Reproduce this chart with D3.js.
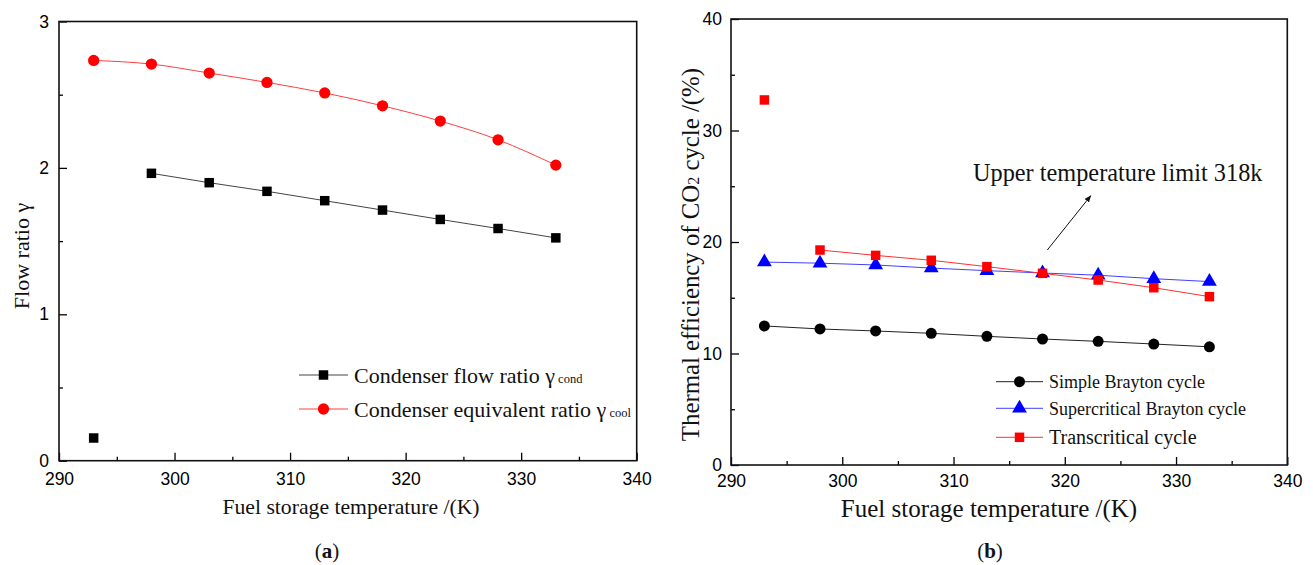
<!DOCTYPE html>
<html>
<head>
<meta charset="utf-8">
<script src="https://cdn.jsdelivr.net/npm/d3@7"></script>
<style>
  body { margin: 0; background: #fff; }
  svg { display: block; }
  .tick text { font-family: "Liberation Sans", Arial, sans-serif; font-size: 17.5px; fill: #000; }
  .serif { font-family: "Liberation Serif", "Times New Roman", serif; fill: #111; }
</style>
</head>
<body>
<svg id="chart" width="1313" height="565"></svg>
<script>
// fuel storage temperature (K), shared by both panels
var tempK = [293, 298, 303, 308, 313, 318, 323, 328, 333];

// panel (a): flow ratios
var condFlowRatio  = [0.155, 1.963, 1.899, 1.840, 1.776, 1.712, 1.648, 1.586, 1.522];
var coolEquivRatio = [2.734, 2.709, 2.648, 2.584, 2.512, 2.424, 2.320, 2.192, 2.019];

// panel (b): thermal efficiency (%)
var simpleBrayton    = [12.47, 12.20, 12.02, 11.81, 11.54, 11.30, 11.09, 10.85, 10.60];
var supercritBrayton = [18.20, 18.10, 17.94, 17.66, 17.43, 17.22, 17.02, 16.71, 16.45];
var transcritical    = [32.74, 19.28, 18.80, 18.36, 17.79, 17.19, 16.59, 15.90, 15.10];

var xTicks = [290, 300, 310, 320, 330, 340];
var xMinor = [295, 305, 315, 325, 335];
var yTicksA = [0, 1, 2, 3], yMinorA = [0.5, 1.5, 2.5];
var yTicksB = [0, 10, 20, 30, 40], yMinorB = [5, 15, 25, 35];

var svg = d3.select('#chart');

function symbolPath(type, size) {
	return d3.symbol().type(type).size(size)();
}

function drawPanel(p) {
	var g = svg.append('g').attr('transform', 'translate(' + p.left + ',' + p.top + ')');
	var x = d3.scaleLinear().domain([290, 340]).range([0, p.width]);
	var y = d3.scaleLinear().domain(p.yDomain).range([p.height, 0]);

	// axes, ticks pointing inward
	g.append('g').attr('transform', 'translate(0,' + p.height + ')')
		.call(d3.axisBottom(x).tickValues(xTicks).tickSize(-8).tickPadding(p.xPad).tickFormat(d3.format('d')));
	g.append('g').attr('transform', 'translate(0,' + p.height + ')')
		.call(d3.axisBottom(x).tickValues(xMinor).tickSize(-4).tickFormat(''));
	g.append('g')
		.call(d3.axisLeft(y).tickValues(p.yTicks).tickSize(-8).tickPadding(p.yPad).tickFormat(d3.format('d')));
	g.append('g')
		.call(d3.axisLeft(y).tickValues(p.yMinor).tickSize(-4).tickFormat(''));
	g.selectAll('.domain').remove();
	g.selectAll('.tick line').attr('stroke', '#000').attr('stroke-width', 1.3);

	g.append('rect').attr('width', p.width).attr('height', p.height)
		.attr('fill', 'none').attr('stroke', '#111').attr('stroke-width', 1.6);

	p.series.forEach(function (s) {
		var pts = tempK.map(function (t, i) { return {x: t, y: s.values[i], i: i}; });
		var line = d3.line().x(function (d) { return x(d.x); }).y(function (d) { return y(d.y); })
			.curve(s.curve || d3.curveLinear);
		g.append('path').datum(pts.filter(function (d) { return d.i >= s.lineFrom; }))
			.attr('d', line).attr('fill', 'none').attr('stroke', s.line).attr('stroke-width', 1);
		g.selectAll(null).data(pts).enter().append('path')
			.attr('transform', function (d) { return 'translate(' + x(d.x) + ',' + y(d.y) + ')'; })
			.attr('d', symbolPath(s.symbol, s.size))
			.attr('fill', s.fill);
	});

	// legend
	var lg = g.append('g').attr('transform', 'translate(' + p.legend.x + ',' + p.legend.y + ')');
	p.series.forEach(function (s, i) {
		var row = lg.append('g').attr('transform', 'translate(0,' + p.legend.rows[i] + ')');
		row.append('line').attr('x1', 0).attr('x2', p.legend.len).attr('stroke', s.line).attr('stroke-width', 1);
		row.append('path').attr('transform', 'translate(' + p.legend.len / 2 + ',0)')
			.attr('d', symbolPath(s.symbol, s.size)).attr('fill', s.fill);
		var t = row.append('text').attr('class', 'serif').attr('x', p.legend.len + 6).attr('dy', '0.35em')
			.style('font-size', (s.fs || p.legend.fs) + 'px');
		t.append('tspan').text(s.label);
		if (s.sub) t.append('tspan').style('font-size', '12.5px').text(' ' + s.sub);
	});

	return {g: g, x: x, y: y};
}

var a = drawPanel({
	left: 59, top: 21.5, width: 577.7, height: 439.2,
	yDomain: [0, 3], yTicks: yTicksA, yMinor: yMinorA, xPad: 12, yPad: 10,
	series: [
		{values: condFlowRatio, lineFrom: 1, line: '#444', fill: '#000', symbol: d3.symbolSquare, size: 90,
			label: 'Condenser flow ratio γ', sub: 'cond'},
		{values: coolEquivRatio, lineFrom: 0, line: '#ff4040', fill: '#ff0000', symbol: d3.symbolCircle, size: 100,
			label: 'Condenser equivalent ratio γ', sub: 'cool', curve: d3.curveMonotoneX}
	],
	legend: {x: 240, y: 353.5, rows: [0, 34], len: 49, fs: 22}
});

var b = drawPanel({
	left: 731, top: 19, width: 556.3, height: 446,
	yDomain: [0, 40], yTicks: yTicksB, yMinor: yMinorB, xPad: 10, yPad: 9,
	series: [
		{values: simpleBrayton, lineFrom: 0, line: '#222', fill: '#000', symbol: d3.symbolCircle, size: 95,
			label: 'Simple Brayton cycle'},
		{values: supercritBrayton, lineFrom: 0, line: '#4040ff', fill: '#0000ff', symbol: d3.symbolTriangle, size: 95,
			label: 'Supercritical Brayton cycle'},
		{values: transcritical, lineFrom: 1, line: '#ff3030', fill: '#ff0000', symbol: d3.symbolSquare, size: 90,
			label: 'Transcritical cycle', fs: 20}
	],
	legend: {x: 265, y: 362.7, rows: [0, 26.6, 55.6], len: 47, fs: 18}
});

// axis titles
svg.append('text').attr('class', 'serif').attr('text-anchor', 'middle')
	.attr('transform', 'translate(21,256) rotate(-90)').attr('dy', '0.35em')
	.style('font-size', '22px').text('Flow ratio γ');
svg.append('text').attr('class', 'serif').attr('text-anchor', 'middle')
	.attr('x', 351).attr('y', 506.5).attr('dy', '0.35em')
	.style('font-size', '21.7px').text('Fuel storage temperature /(K)');

var yt = svg.append('text').attr('class', 'serif').attr('text-anchor', 'middle')
	.attr('transform', 'translate(690.5,254.6) rotate(-90)').attr('dy', '0.35em')
	.style('font-size', '24.8px');
yt.append('tspan').text('Thermal efficiency of CO');
yt.append('tspan').style('font-size', '16px').text('2');
yt.append('tspan').text(' cycle /(%)');
svg.append('text').attr('class', 'serif').attr('text-anchor', 'middle')
	.attr('x', 989).attr('y', 508).attr('dy', '0.35em')
	.style('font-size', '25px').text('Fuel storage temperature /(K)');

// annotation in panel (b)
b.g.append('defs').append('marker').attr('id', 'arrowhead').attr('viewBox', '0 0 10 10')
	.attr('refX', 9).attr('refY', 5).attr('markerWidth', 7).attr('markerHeight', 7).attr('orient', 'auto')
	.append('path').attr('d', 'M0,1 L10,5 L0,9 Z').attr('fill', '#111');
b.g.append('line')
	.attr('x1', b.x(318.43)).attr('y1', b.y(19.28))
	.attr('x2', b.x(322.33)).attr('y2', b.y(24.15))
	.attr('stroke', '#111').attr('stroke-width', 1).attr('marker-end', 'url(#arrowhead)');
b.g.append('text').attr('class', 'serif').attr('x', b.x(311.75)).attr('y', b.y(25.5))
	.style('font-size', '24.3px').text('Upper temperature limit 318k');

// panel captions
[{x: 327, t: 'a'}, {x: 990, t: 'b'}].forEach(function (c) {
	var t = svg.append('text').attr('class', 'serif').attr('text-anchor', 'middle')
		.attr('x', c.x).attr('y', 551).attr('dy', '0.35em').style('font-size', '21px');
	t.append('tspan').text('(');
	t.append('tspan').style('font-weight', 'bold').text(c.t);
	t.append('tspan').text(')');
});
</script>
</body>
</html>
